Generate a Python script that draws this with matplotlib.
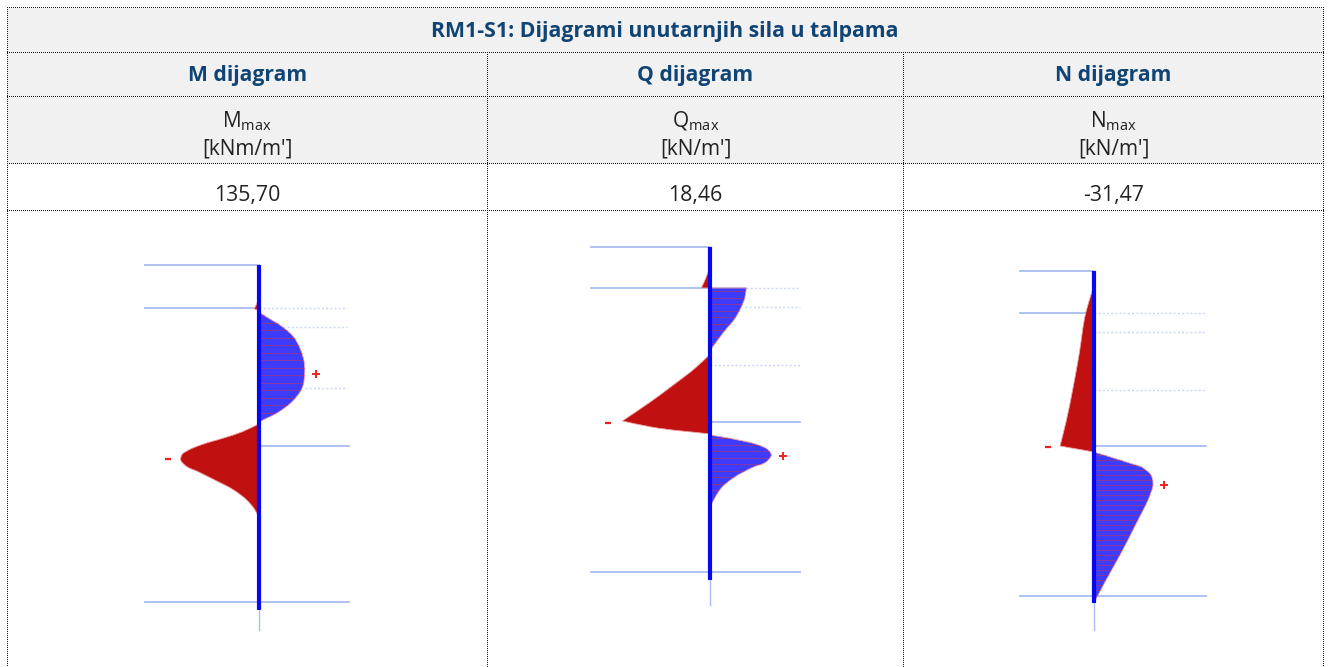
import numpy as np
import matplotlib
matplotlib.use('Agg')
import matplotlib.pyplot as plt
from matplotlib.path import Path
from matplotlib.patches import PathPatch

plt.rcParams['font.family'] = ['Open Sans', 'DejaVu Sans']

title = "RM1-S1: Dijagrami unutarnjih sila u talpama"
headers = ["M dijagram", "Q dijagram", "N dijagram"]
symbols = ["M", "Q", "N"]
units = ["[kNm/m']", "[kN/m']", "[kN/m']"]
values = ["135,70", "18,46", "-31,47"]

# table grid in px
col_x = [7.5, 487.5, 903.5, 1323.5]
row_y = [7.5, 52.5, 96.5, 163.5, 210.5, 667]

# each lobe is (y px, offset from the wall px)
# a repeated point means a sharp corner
m_lobes = [
    ("neg", [(297, 0), (304, -2), (309, -4), (310, 0)]),
    ("pos", [(312, 0), (317, 8), (327, 24), (337, 35), (350, 42), (362, 45.5), (373, 46), (388, 43.5), (400, 35), (412, 20), (422, 0)]),
    ("neg", [(424, 0), (432, -17), (438, -35), (445, -58), (450, -70), (455, -77), (460, -78), (465, -74), (472, -60), (480, -44), (490, -25), (500, -12), (508, -5), (517, 0)]),
]
q_lobes = [
    ("neg", [(265, 0), (277, -4), (288, -9), (288, -9), (288, 0)]),
    ("pos", [(288, 0), (288, 36), (288, 36), (298, 34.5), (307, 31), (318, 25), (332, 13.5), (342, 6), (350, 0)]),
    ("neg", [(354, 0), (368, -15), (385, -37), (402, -60), (421, -88), (421, -88), (427, -59), (434, 0)]),
    ("pos", [(435, 0), (440, 28), (445, 48), (450, 58), (455, 61), (460, 58), (468, 41), (478, 23), (488, 11), (497, 5), (507, 0)]),
    ("neg", [(571, 0), (576, -2), (580, 0)]),
]
n_lobes = [
    ("neg", [(285, 0), (298, -4), (312, -8), (355, -15), (388, -21), (422, -28), (446, -34), (446, -34), (452, 0)]),
    ("pos", [(452, 0), (460, 26), (467, 48), (467, 48), (475, 57), (485, 59), (495, 56), (522, 43), (555, 26), (582, 11), (603, 0)]),
]

# horizontal support lines: (y, x from, x to) in px
m_solid = [(265, 145, 259), (308, 145, 259), (446, 259, 349), (602, 145, 349)]
m_dotted = [(308, 259, 347), (327, 283, 347), (388, 305, 347)]
q_solid = [(246.5, 591, 710), (288, 591, 746), (421.5, 710, 800), (571.5, 591, 800)]
q_dotted = [(288, 746, 800), (307, 745, 800), (365, 710, 800)]
n_solid = [(271, 1020, 1094), (313, 1020, 1094), (446, 1094, 1206), (595.5, 1020, 1206)]
n_dotted = [(313, 1094, 1206), (332, 1094, 1206), (390, 1094, 1206)]

diagrams = [
    dict(x=258.7, top=265, bottom=610, tail=630, step=7.5, lobes=m_lobes, solid=m_solid, dotted=m_dotted,
         plus=(316, 373.5), minus=(168, 458.5)),
    dict(x=710.3, top=246.5, bottom=580, tail=605, step=6.5, lobes=q_lobes, solid=q_solid, dotted=q_dotted,
         plus=(783, 455.5), minus=(608, 422.5)),
    dict(x=1094, top=271, bottom=603, tail=630, step=5, lobes=n_lobes, solid=n_solid, dotted=n_dotted,
         plus=(1164, 484.5), minus=(1048, 446.5)),
]

BLUE = '#3c3cfa'
RED = '#c01010'
LINE = '#a9bdf2'
NAVY = '#0f4474'


def smooth_section(p):
    # chord length catmull-rom through one run of points, returns bezier controls
    p = np.array(p, dtype=float)
    d = np.hypot(*np.diff(p, axis=0).T)
    m = np.zeros_like(p)
    m[0] = (p[1] - p[0]) / d[0]
    m[-1] = (p[-1] - p[-2]) / d[-1]
    for i in range(1, len(p) - 1):
        m[i] = ((p[i] - p[i - 1]) / d[i - 1] * d[i] + (p[i + 1] - p[i]) / d[i] * d[i - 1]) / (d[i - 1] + d[i])
    verts = []
    for i in range(len(p) - 1):
        verts += [tuple(p[i] + m[i] * d[i] / 3), tuple(p[i + 1] - m[i + 1] * d[i] / 3), tuple(p[i + 1])]
    return verts


def lobe_path(pts, x0):
    xy = [(x0 + d, y) for y, d in pts]
    sections = [[xy[0]]]
    for prev, cur in zip(xy[:-1], xy[1:]):
        if cur == prev:
            sections.append([cur])
        else:
            sections[-1].append(cur)
    verts = [xy[0]]
    codes = [Path.MOVETO]
    for sec in sections:
        v = smooth_section(sec)
        verts += v
        codes += [Path.CURVE4] * len(v)
    verts.append(xy[0])
    codes.append(Path.CLOSEPOLY)
    return Path(verts, codes)


fig = plt.figure(figsize=(13.3, 6.67), dpi=100)
ax = fig.add_axes([0, 0, 1, 1])
ax.set_xlim(0, 1330)
ax.set_ylim(667, 0)
ax.axis('off')

# table background
ax.fill_between([col_x[0], col_x[-1]], row_y[0], row_y[3], color='#f1f1f1', lw=0, zorder=0)

# table borders, the ends sit on whole pixels so the 1px dots stay crisp
dots = dict(color='#1a1a1a', lw=0.72, linestyle=(0, (1, 1)), zorder=1, snap=False)
for y in row_y[:-1]:
    ax.plot([col_x[0] - 0.5, col_x[-1] + 0.5], [y, y], **dots)
ax.plot([col_x[0], col_x[0]], [row_y[0] - 0.5, row_y[-1]], **dots)
ax.plot([col_x[-1], col_x[-1]], [row_y[0] - 0.5, row_y[-1]], **dots)
for x in col_x[1:-1]:
    ax.plot([x, x], [row_y[1] - 0.5, row_y[-1]], **dots)

# table text
ax.text(665, 31, title, ha='center', va='center', fontsize=15.3, fontweight='bold', color=NAVY)
centers = [247.5, 695.5, 1113.5]
for i, cx in enumerate(centers):
    ax.text(cx, 75, headers[i], ha='center', va='center', fontsize=15.2, fontweight='bold', color=NAVY)
    ax.text(cx, 121, symbols[i] + r"$_{\mathregular{max}}$", ha='center', va='center', fontsize=15, color='#222222')
    ax.text(cx, 149, units[i], ha='center', va='center', fontsize=15, color='#222222')
    ax.text(cx, 196, values[i], ha='center', va='center', fontsize=15.3, color='#222222')

# force diagrams
for dg in diagrams:
    x0 = dg['x']
    for y, a, b in dg['solid']:
        ax.plot([a, b], [y, y], color=LINE, lw=1.3, zorder=2)
    for y, a, b in dg['dotted']:
        ax.plot([a, b], [y, y], color='#ccd6f6', lw=1, linestyle=(0, (1.5, 1.5)), zorder=2)
    ax.plot([x0, x0], [dg['bottom'], dg['tail']], color=LINE, lw=1, zorder=2)
    for kind, pts in dg['lobes']:
        patch = PathPatch(lobe_path(pts, x0), facecolor=BLUE if kind == 'pos' else RED,
                          edgecolor='#f0a0a0', lw=0.6, zorder=3)
        ax.add_patch(patch)
        if kind == 'pos':
            # red station lines inside the positive parts
            ys = np.arange(pts[0][0] + 3, pts[-1][0], dg['step'])
            lines = ax.hlines(ys, x0 - 100, x0 + 100, color='#c83060', lw=0.72, alpha=0.55, zorder=4)
            lines.set_snap(True)
            lines.set_clip_path(patch)
    ax.plot([x0, x0], [dg['top'], dg['bottom']], color='#0808f0', lw=3, solid_capstyle='butt', zorder=5)
    ax.plot(*dg['plus'], marker='+', color='#f02020', ms=6, mew=1.4, zorder=5)
    ax.plot(*dg['minus'], marker='_', color='#f02020', ms=4, mew=1.6, zorder=5)

fig.savefig('out.png', dpi=100)
